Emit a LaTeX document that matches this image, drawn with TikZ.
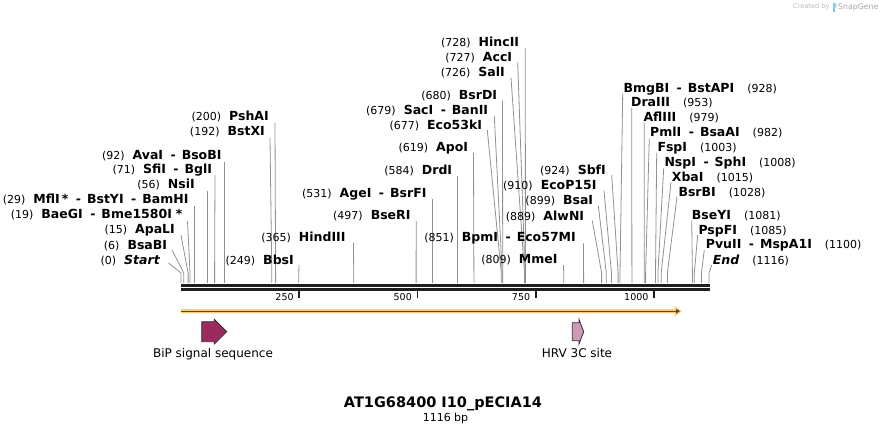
\documentclass[tikz,border=0pt]{standalone}
\usepackage{fontspec}
\setmainfont{DejaVu Sans}[ItalicFont={DejaVu Sans Oblique}, BoldItalicFont={DejaVu Sans Bold Oblique}]
\usetikzlibrary{arrows.meta, positioning}
\definecolor{siteline}{RGB}{145, 145, 145}
\definecolor{backbone}{RGB}{30, 30, 30}
\definecolor{orffill}{RGB}{250, 205, 125}
\definecolor{orfline}{RGB}{85, 70, 45}
\definecolor{bipfill}{RGB}{155, 42, 95}
\definecolor{hrvfill}{RGB}{204, 153, 184}
\definecolor{featedge}{RGB}{60, 40, 50}
\definecolor{markgray}{RGB}{185, 185, 185}
\definecolor{snapblue}{RGB}{120, 200, 240}

\newcommand{\bpnum}[1]{{\fontsize{11}{13}\selectfont(#1)}}
\newcommand{\enz}[1]{{\fontsize{12.5}{14}\selectfont\bfseries #1}}
\newcommand{\lsep}{\hspace{8pt}}
\newcommand{\rsep}{\hspace{13pt}}
\newcommand{\esep}{\hspace{7.5pt}\enz{-}\hspace{6pt}}

\begin{document}
\begin{tikzpicture}[
          x=1pt, y=-1pt,
          lbl/.style={inner sep=0pt, text height=9pt, text depth=0pt},
          site/.style={draw=siteline, line width=0.8pt},
          bbline/.style={draw=backbone},
          tick/.style={draw=backbone, line width=1.7pt},
          ticklbl/.style={inner sep=0pt, text height=7pt, text depth=0pt, font=\fontsize{9.5}{11}\selectfont},
          feat/.style={draw=featedge, line width=0.8pt},
          featlbl/.style={inner sep=0pt, anchor=base, font=\fontsize{12}{14}\selectfont},
        ]
        \useasboundingbox (0,0) rectangle (891,434);

        % sites with labels left of the line
        \foreach \nm/\lx/\ly/\tx/\ty/\sx/\txt in {
            startsite/160/259.5/168.5/263/181/{\bpnum{0}\lsep\enz{\itshape Start}},
            bsabi/167.3/245/172/250/183.8/{\bpnum{6}\lsep\enz{BsaBI}},
            apali/175/229.3/181/235/188.1/{\bpnum{15}\lsep\enz{ApaLI}},
            baegi/182.7/214/187.5/221/190/{\bpnum{19}\lsep\enz{BaeGI}\esep\enz{Bme1580I}\hspace{4pt}\enz{*}},
            mfli/188.7/199/194.7/205.7/194.7/{\bpnum{29}\lsep\enz{MflI}\hspace{2pt}\enz{*}\esep\enz{BstYI}\esep\enz{BamHI}},
            nsii/195/184/207.5/190.7/207.5/{\bpnum{56}\lsep\enz{NsiI}},
            sfii/212.3/169/215/175/214.6/{\bpnum{71}\lsep\enz{SfiI}\esep\enz{BglI}},
            avai/221.7/155/224.5/162/224.5/{\bpnum{92}\lsep\enz{AvaI}\esep\enz{BsoBI}},
            bstxi/265/131/270/138/271.8/{\bpnum{192}\lsep\enz{BstXI}},
            pshai/269/116/275/123/275.6/{\bpnum{200}\lsep\enz{PshAI}},
            bbsi/294/260/299/265/298.8/{\bpnum{249}\lsep\enz{BbsI}},
            hindiii/345.7/236.7/353.5/242.7/353.7/{\bpnum{365}\lsep\enz{HindIII}},
            bseri/410.7/215/416.2/221/416.1/{\bpnum{497}\lsep\enz{BseRI}},
            agei/426.7/192.7/432.2/199/432.2/{\bpnum{531}\lsep\enz{AgeI}\esep\enz{BsrFI}},
            drdi/452.3/170/457.3/175.7/457.3/{\bpnum{584}\lsep\enz{DrdI}},
            apoi/468.3/146.7/473.5/152.7/473.9/{\bpnum{619}\lsep\enz{ApoI}},
            ecokI/482.3/125/487.3/130/501.3/{\bpnum{677}\lsep\enz{Eco53kI}},
            saci/488.3/110/494.3/116/502.2/{\bpnum{679}\lsep\enz{SacI}\esep\enz{BanII}},
            bsrdi/497.3/95/502.5/100.7/502.7/{\bpnum{680}\lsep\enz{BsrDI}},
            sali/505/71.7/511/77.7/524.5/{\bpnum{726}\lsep\enz{SalI}},
            acci/512.3/56.7/517.7/62.3/525/{\bpnum{727}\lsep\enz{AccI}},
            hincii/519.3/41.7/525.3/48.3/525.4/{\bpnum{728}\lsep\enz{HincII}},
            mmei/557.7/259.3/563.5/265/563.7/{\bpnum{809}\lsep\enz{MmeI}},
            bpmi/576/236.7/583.5/243.3/583.6/{\bpnum{851}\lsep\enz{BpmI}\esep\enz{Eco57MI}},
            alwni/584.3/215.7/592.3/220.7/601.6/{\bpnum{889}\lsep\enz{AlwNI}},
            bsai/593.3/200/598.3/205.7/606.3/{\bpnum{899}\lsep\enz{BsaI}},
            ecopi/596.7/185/604/190.7/611.5/{\bpnum{910}\lsep\enz{EcoP15I}},
            sbfi/606/170/611.7/175/618.1/{\bpnum{924}\lsep\enz{SbfI}}}{
          \node[lbl, anchor=east] (\nm) at (\lx,\ly) {\txt};
          \coordinate (\nm-top) at (\tx,\ty);
          \coordinate (\nm-cut) at (\sx,283);
          \draw[site] (\nm-top) -- (\sx,273) -- (\nm-cut);
        }

        % sites with labels right of the line
        \foreach \nm/\lx/\ly/\tx/\ty/\sx/\txt in {
            bmgbi/623.3/87.7/622.7/93.3/620/{\enz{BmgBI}\esep\enz{BstAPI}\rsep\bpnum{928}},
            draiii/631/102.3/631.7/107.7/631.9/{\enz{DraIII}\rsep\bpnum{953}},
            afliii/643.3/116.7/644.3/122.3/644.2/{\enz{AflIII}\rsep\bpnum{979}},
            pmli/650/131.7/649.3/138.3/645.6/{\enz{PmlI}\esep\enz{BsaAI}\rsep\bpnum{982}},
            fspi/657.3/147.3/656.7/152.7/655.5/{\enz{FspI}\rsep\bpnum{1003}},
            nspi/664.3/161.7/663.7/168.3/657.9/{\enz{NspI}\esep\enz{SphI}\rsep\bpnum{1008}},
            xbai/671.7/176.7/671/182.3/661.2/{\enz{XbaI}\rsep\bpnum{1015}},
            bsrbi/678.3/191.7/677/196.7/667.4/{\enz{BsrBI}\rsep\bpnum{1028}},
            bseyi/691.7/215/691.7/220.7/692.4/{\enz{BseYI}\rsep\bpnum{1081}},
            pspfi/698.3/230/697.7/235/694.3/{\enz{PspFI}\rsep\bpnum{1085}},
            pvuii/705.7/244.3/704.3/250/701.4/{\enz{PvuII}\esep\enz{MspA1I}\rsep\bpnum{1100}},
            endsite/712.7/260/711.7/265/709/{\enz{\itshape End}\rsep\bpnum{1116}}}{
          \node[lbl, anchor=west] (\nm) at (\lx,\ly) {\txt};
          \coordinate (\nm-top) at (\tx,\ty);
          \coordinate (\nm-cut) at (\sx,283);
          \draw[site] (\nm-top) -- (\sx,273) -- (\nm-cut);
        }

        % backbone and ruler
        \coordinate (bb-start) at (181,285);
        \coordinate (bb-end)   at (709.5,285);
        \draw[bbline, line width=3pt] (bb-start) -- (bb-end);
        \draw[bbline, line width=2.4pt] ([yshift=-4.5pt]bb-start) -- ([yshift=-4.5pt]bb-end);
        \foreach \v/\x in {250/299.3, 500/417.5, 750/535.8, 1000/654.1}{
          \draw[tick] (\x,289.5) -- (\x,297.5);
          \node[ticklbl, anchor=east] (tick\v) at (\x-5.5,297) {\v};
        }

        % orf arrow
        \coordinate (orf-start) at (181,311.2);
        \coordinate (orf-end)   at (680,311.2);
        \fill[orffill] (181,309) -- (674.5,309) -- (674.5,306) -- (682,311.2)
          -- (674.5,316.5) -- (674.5,313.4) -- (181,313.4) -- cycle;
        \draw[orfline, line width=1.2pt, -{Triangle[length=4pt, width=4.5pt]}] (orf-start) -- (orf-end);

        % features
        \draw[feat, fill=bipfill] (201.7,321.7) -- (214.3,321.7) -- (214.3,319.3) -- (226.7,331.7)
          -- (214.3,344) -- (214.3,341.7) -- (201.7,341.7) -- cycle;
        \draw[feat, fill=hrvfill] (572.3,322.7) -- (579,322.7) -- (579,319.3) -- (583.7,331.7)
          -- (579,344) -- (579,340.7) -- (572.3,340.7) -- cycle;
        \node[featlbl] (biplbl) at (213,357) {BiP signal sequence};
        \node[featlbl] (hrvlbl) at (577,357) {HRV 3C site};

        % title
        \node[inner sep=0pt, anchor=base, font=\fontsize{14.5}{16}\selectfont\bfseries] (title) at (443,407.3) {AT1G68400 I10\_pECIA14};
        \node[inner sep=0pt, anchor=base, font=\fontsize{11}{13}\selectfont] (size) at (445.5,421) {1116 bp};

        % watermark
        \node[inner sep=0pt, anchor=west, text=markgray, font=\fontsize{6.6}{8}\selectfont] (credit) at (793,7) {Created by};
        \fill[snapblue] (832.8,2.5) rectangle (834.6,11.5);
        \fill[snapblue!60] (834.6,2.5) -- (836.6,4) -- (836.6,7) -- (834.6,8.5) -- cycle;
        \node[inner sep=0pt, anchor=west, text=markgray!90!black, font=\fontsize{7.8}{9}\selectfont] (snapgene) at (838,7) {SnapGene};
      \end{tikzpicture}
\end{document}
